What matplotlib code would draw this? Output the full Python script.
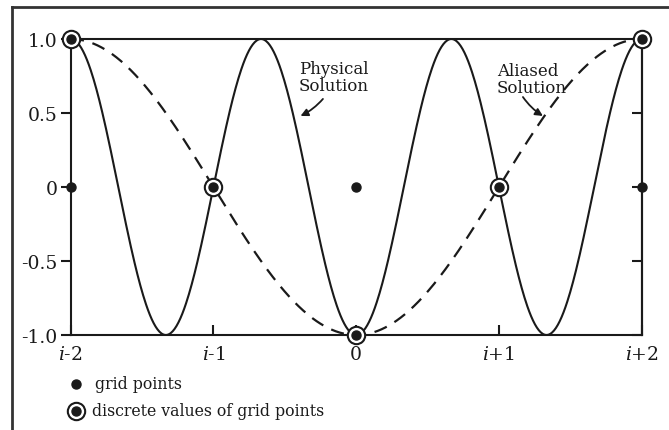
import numpy as np
import matplotlib
matplotlib.use('Agg')
import matplotlib.pyplot as plt
from matplotlib.lines import Line2D

plt.rcParams['font.family'] = 'DejaVu Serif'
plt.rcParams['mathtext.fontset'] = 'dejavuserif'

# grid indices relative to i and their labels
grid_x = [-2, -1, 0, 1, 2]
grid_labels = [r'$i$-2', r'$i$-1', '0', r'$i$+1', r'$i$+2']
# wavenumbers in units of pi per grid interval
physical_k = 1.5
aliased_k = 0.5
# values sampled at the grid points
discrete_y = [1.0, 0.0, -1.0, 0.0, 1.0]
grid_y = [0, 0, 0, 0, 0]
yticks = [1.0, 0.5, 0, -0.5, -1.0]
ytick_labels = ['1.0', '0.5', '0', '-0.5', '-1.0']

W, H = 669, 431
ink = '#1a1a1a'
fig = plt.figure(figsize=(W / 100, H / 100), dpi=100)
ax = fig.add_axes([70.7 / W, 1 - 336 / H, 571 / W, 296 / H])

x = np.linspace(-2, 2, 600)
ax.plot(x, -np.cos(physical_k * np.pi * x), color=ink, lw=1.5)
ax.plot(x, -np.cos(aliased_k * np.pi * x), color=ink, lw=1.6,
        linestyle=(0, (6, 4)))

# grid points
ax.plot(grid_x, grid_y, 'o', color=ink, ms=6.5, clip_on=False, zorder=5)
# discrete values (ring + dot)
ax.plot(grid_x, discrete_y, 'o', mfc='white', mec=ink, mew=1.5, ms=12.5,
        clip_on=False, zorder=6)
ax.plot(grid_x, discrete_y, 'o', color=ink, ms=6.5, clip_on=False, zorder=7)

ax.set_xlim(-2, 2)
ax.set_ylim(-1, 1)
for s in ax.spines.values():
    s.set_linewidth(1.5)
    s.set_color(ink)

ax.set_xticks(grid_x)
ax.set_xticklabels(grid_labels)
ax.set_yticks(yticks)
ax.set_yticklabels(ytick_labels)
ax.tick_params(axis='x', direction='in', length=7, width=1.5, pad=7,
               labelsize=13.5, colors=ink)
ax.tick_params(axis='y', direction='out', length=7, width=1.5, pad=2.5,
               labelsize=13.5, colors=ink)
ry = ax.secondary_yaxis('right')
ry.set_yticks(yticks)
ry.set_yticklabels([])
ry.tick_params(direction='in', length=7, width=1.5, colors=ink)
ry.spines['right'].set_linewidth(1.5)

# annotations
ax.text(-0.401, 0.74, 'Physical\nSolution', fontsize=12, ha='left', va='center',
        linespacing=1.0, color=ink)
ax.annotate('', xy=(-0.39, 0.48), xytext=(-0.233, 0.595),
            arrowprops=dict(arrowstyle='-|>', lw=1.3, color=ink,
                            connectionstyle='arc3,rad=-0.1', mutation_scale=11,
                            shrinkA=0, shrinkB=0))
ax.text(0.986, 0.733, 'Aliased\nSolution', fontsize=12, ha='left', va='center',
        linespacing=1.0, color=ink)
ax.annotate('', xy=(1.308, 0.48), xytext=(1.168, 0.608),
            arrowprops=dict(arrowstyle='-|>', lw=1.3, color=ink,
                            connectionstyle='arc3,rad=0.1', mutation_scale=11,
                            shrinkA=0, shrinkB=0))

# legend, drawn by hand under the axes
lx = 76 / W
fig.add_artist(Line2D([lx], [1 - 385 / H], marker='o', color=ink, ms=6.5,
                      transform=fig.transFigure))
fig.add_artist(Line2D([lx], [1 - 412 / H], marker='o', mfc='white', mec=ink,
                      mew=1.5, ms=12.5, transform=fig.transFigure))
fig.add_artist(Line2D([lx], [1 - 412 / H], marker='o', color=ink, ms=6.5,
                      transform=fig.transFigure))
fig.text(95 / W, 1 - 385 / H, 'grid points', fontsize=11.3, va='center',
         color=ink)
fig.text(92 / W, 1 - 412 / H, 'discrete values of grid points', fontsize=11.3,
         va='center', color=ink)

# outer frame (top and left only)
fig.add_artist(Line2D([12 / W, 12 / W], [0, 1 - 8 / H], color='#333333', lw=2,
                      transform=fig.transFigure))
fig.add_artist(Line2D([12 / W, 1], [1 - 8 / H, 1 - 8 / H], color='#333333', lw=2,
                      transform=fig.transFigure))

fig.savefig('out.png', dpi=100)
